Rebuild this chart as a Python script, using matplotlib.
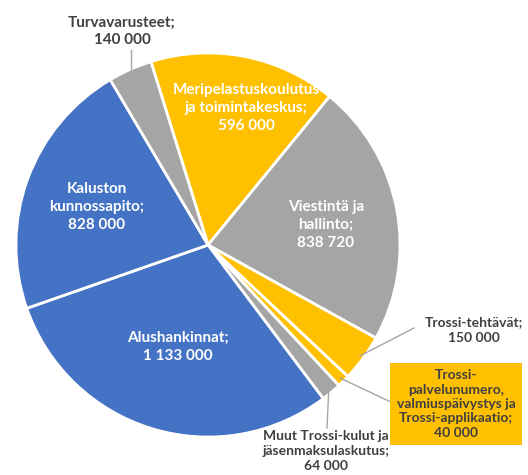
import numpy as np
import matplotlib.pyplot as plt

# Data
labels = ['Meripelastuskoulutus\nja toimintakeskus;\n596 000',
          'Viestintä ja\nhallinto;\n838 720',
          'Trossi-tehtävät;\n150 000',
          'Trossi-\npalvelunumero,\nvalmiuspäivystys ja\nTrossi-applikaatio;\n40 000',
          'Muut Trossi-kulut ja\njäsenmaksulaskutus;\n64 000',
          'Alushankinnat;\n1 133 000',
          'Kaluston\nkunnossapito;\n828 000',
          'Turvavarusteet;\n140 000']
values = [596000, 838720, 150000, 40000, 64000, 1133000, 828000, 140000]
colors = ['#FFC000', '#A5A5A5', '#FFC000', '#FFC000', '#A5A5A5', '#4472C4', '#4472C4', '#A5A5A5']

plt.rcParams['font.family'] = ['Lato', 'DejaVu Sans']

W, H = 528, 475
fig = plt.figure(figsize=(W / 100, H / 100), dpi=100)
ax = fig.add_axes([0, 0, 1, 1])

cx, cy, R = 208, H - 245, 192
wedges, _ = ax.pie(values, colors=colors, startangle=107.3, counterclock=False,
                   center=(cx, cy), radius=R, explode=[0.02] * len(values),
                   wedgeprops=dict(edgecolor='white', linewidth=2))
ax.set_xlim(0, W)
ax.set_ylim(0, H)
ax.set_aspect('equal')
ax.axis('off')

def edge(i, k=1.0):
    a = np.deg2rad((wedges[i].theta1 + wedges[i].theta2) / 2)
    return cx + np.cos(a) * R * k, cy + np.sin(a) * R * k

# labels inside the big slices (pixel positions from top-left)
inside_pos = {0: (246, 108), 1: (326, 225), 5: (178, 347), 6: (97, 207)}
for i, (x, y) in inside_pos.items():
    ax.text(x, H - y, labels[i], color='white', fontsize=11, fontweight='bold',
            ha='center', va='center', linespacing=1.4)

# labels outside with leader lines
lc = '#A5A5A5'
txtc = '#404040'

x0, y0 = edge(7, 0.99)
ax.plot([x0, x0], [y0, H - 50], color=lc, lw=1)
ax.text(122, H - 31, labels[7], ha='center', va='center', color=txtc,
        fontsize=11, fontweight='bold', linespacing=1.3)

x0, y0 = edge(2, 0.98)
ax.plot([x0, 414], [y0, H - 328], color=lc, lw=1)
ax.text(474, H - 330, labels[2], ha='center', va='center', color=txtc,
        fontsize=10, fontweight='bold', linespacing=1.4)

x0, y0 = edge(3, 0.98)
ax.plot([x0, 393], [y0, H - 403], color=lc, lw=1)
ax.text(456, H - 404, labels[3], ha='center', va='center', color=txtc,
        fontsize=10, fontweight='bold', linespacing=1.25,
        bbox=dict(boxstyle='square,pad=0.45', fc='#FFC000', ec='none'))

x0, y0 = edge(4, 0.98)
ax.plot([x0, 327], [y0, H - 428], color=lc, lw=1)
ax.text(326, H - 430, labels[4], ha='center', va='top', color=txtc,
        fontsize=10, fontweight='bold', linespacing=1.3)

fig.savefig('out.png', dpi=100)
